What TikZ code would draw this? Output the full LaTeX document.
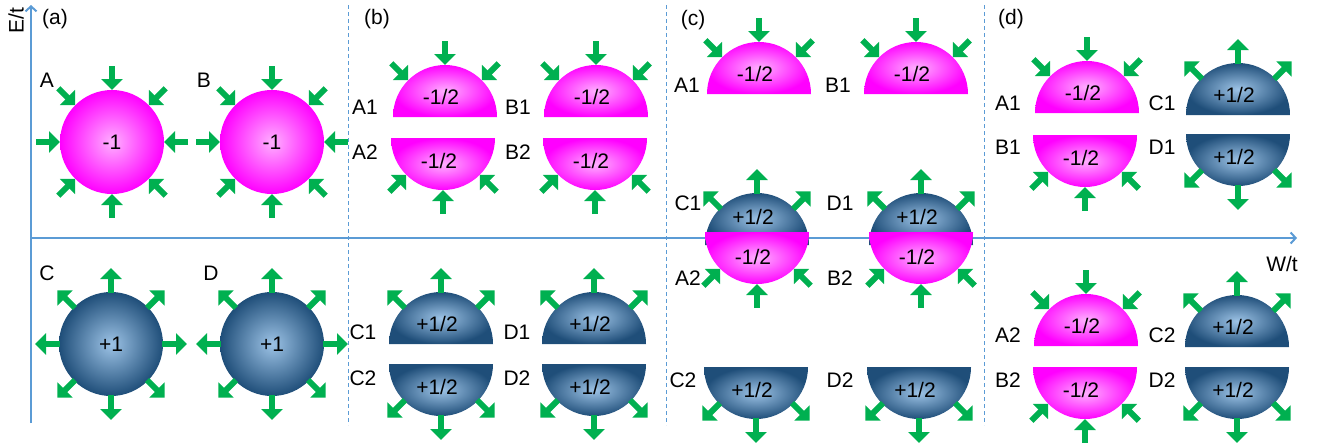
\documentclass[tikz,border=0pt]{standalone}
\usepackage{fontspec}
\setmainfont{Liberation Sans}
\usetikzlibrary{arrows.meta}
\definecolor{axisblue}{HTML}{5B9BD5}
\definecolor{garrowc}{HTML}{00B050}
\definecolor{magin}{HTML}{FFB0FF}
\definecolor{magout}{HTML}{FF00FF}
\definecolor{bluein}{HTML}{9DC3E6}
\definecolor{blueout}{HTML}{1F4E79}
\tikzset{
  negball/.style={inner color=magin, outer color=magout},
  posball/.style={inner color=bluein, outer color=blueout},
  garrow/.style={draw=garrowc, line width=6pt, -{Triangle[width=21pt,length=11pt]}},
  lbl/.style={font=\fontsize{21}{23}\selectfont, inner sep=0pt},
  axisline/.style={draw=axisblue, line width=2pt, -{Straight Barb[length=5pt,width=11pt]}},
  divider/.style={draw=axisblue, line width=1pt, dash pattern=on 4pt off 3pt},
}
% full ball: name, x, y, style, text
\newcommand{\fullball}[5]{%
  \begin{scope}[shift={(#2,#3)}]
    \path[#4] (0,0) circle[radius=52];
    \node[lbl] (#1) at (0,0) {#5};
  \end{scope}}
% upper half: [text offset] name, x, y, style, text
\newcommand{\uphalf}[6][20]{%
  \begin{scope}[shift={(#3,#4)}]
    \path[#5] (-52,0) arc[start angle=180,end angle=0,radius=52] -- cycle;
    \node[lbl] (#2) at (-4,#1) {#6};
  \end{scope}}
\newcommand{\lowhalf}[6][-23]{%
  \begin{scope}[shift={(#3,#4)}]
    \path[#5] (-52,0) arc[start angle=180,end angle=360,radius=52] -- cycle;
    \node[lbl] (#2) at (-4,#1) {#6};
  \end{scope}}
\newcommand{\inarrs}[3]{%
  \begin{scope}[shift={(#1,#2)}]
    \foreach \a in {#3} {\draw[garrow] (\a:76) -- (\a:52);}
  \end{scope}}
\newcommand{\outarrs}[3]{%
  \begin{scope}[shift={(#1,#2)}]
    \foreach \a in {#3} {\draw[garrow] (\a:51) -- (\a:76);}
  \end{scope}}
\begin{document}
\begin{tikzpicture}[x=1pt,y=1pt]
\useasboundingbox (0,0) rectangle (1319,-442);
% axes
\coordinate (O) at (31,-238);
\coordinate (Ytop) at (31,-5);
\coordinate (Ybot) at (31,-423);
\coordinate (Xend) at (1297,-238);
\draw[axisline] (Ybot) -- (Ytop);
\draw[axisline] (O) -- (Xend);
\node[lbl, rotate=90] (Et) at (16,-21) {E/t};
\node[lbl] (Wt) at (1282,-264) {W/t};
% dividers
\coordinate (d1t) at (348,-5); \coordinate (d1b) at (348,-425);
\coordinate (d2t) at (666,-5); \coordinate (d2b) at (666,-425);
\coordinate (d3t) at (984,-5); \coordinate (d3b) at (984,-425);
\draw[divider] (d1t) -- (d1b);
\draw[divider] (d2t) -- (d2b);
\draw[divider] (d3t) -- (d3b);
% panel labels
\node[lbl] (pa) at (55,-19) {(a)};
\node[lbl] (pb) at (377,-19) {(b)};
\node[lbl] (pc) at (693,-20) {(c)};
\node[lbl] (pd) at (1011,-19) {(d)};
% ---- panel (a)
\fullball{aA}{112}{-142}{negball}{-1}
\fullball{aB}{272}{-142}{negball}{-1}
\fullball{aC}{111}{-344}{posball}{+1}
\fullball{aD}{272}{-344}{posball}{+1}
\inarrs{112}{-142}{0,45,...,315}
\inarrs{272}{-142}{0,45,...,315}
\outarrs{111}{-344}{0,45,...,315}
\outarrs{272}{-344}{0,45,...,315}
\node[lbl] (laA) at (47,-80) {A};
\node[lbl] (laB) at (204,-80) {B};
\node[lbl] (laC) at (47,-273) {C};
\node[lbl] (laD) at (211,-273) {D};
% ---- panel (b)
\uphalf{bA1}{445}{-117}{negball}{-1/2}
\lowhalf{bA2}{443}{-138}{negball}{-1/2}
\uphalf{bB1}{596}{-117}{negball}{-1/2}
\lowhalf{bB2}{595}{-138}{negball}{-1/2}
\uphalf{bC1}{441}{-344}{posball}{+1/2}
\lowhalf{bC2}{441}{-364}{posball}{+1/2}
\uphalf{bD1}{594}{-344}{posball}{+1/2}
\lowhalf{bD2}{594}{-364}{posball}{+1/2}
\inarrs{445}{-117}{45,90,135}
\inarrs{443}{-138}{225,270,315}
\inarrs{596}{-117}{45,90,135}
\inarrs{595}{-138}{225,270,315}
\outarrs{441}{-344}{45,90,135}
\outarrs{441}{-364}{225,270,315}
\outarrs{594}{-344}{45,90,135}
\outarrs{594}{-364}{225,270,315}
\node[lbl] (lbA1) at (365,-107) {A1};
\node[lbl] (lbA2) at (365,-152) {A2};
\node[lbl] (lbB1) at (518,-107) {B1};
\node[lbl] (lbB2) at (518,-152) {B2};
\node[lbl] (lbC1) at (363,-332) {C1};
\node[lbl] (lbC2) at (363,-378) {C2};
\node[lbl] (lbD1) at (517,-332) {D1};
\node[lbl] (lbD2) at (517,-378) {D2};
% ---- panel (c)
\uphalf{cA1}{759}{-94}{negball}{-1/2}
\uphalf{cB1}{916}{-94}{negball}{-1/2}
\uphalf[28]{cC1}{757}{-245}{posball}{+1/2}
\lowhalf[-25]{cA2}{757}{-232}{negball}{-1/2}
\uphalf[28]{cD1}{921}{-245}{posball}{+1/2}
\lowhalf[-25]{cB2}{921}{-232}{negball}{-1/2}
\lowhalf{cC2}{756}{-367}{posball}{+1/2}
\lowhalf{cD2}{919}{-367}{posball}{+1/2}
\inarrs{759}{-94}{45,90,135}
\inarrs{916}{-94}{45,90,135}
\outarrs{757}{-245}{45,90,135}
\outarrs{921}{-245}{45,90,135}
\inarrs{757}{-232}{225,270,315}
\inarrs{921}{-232}{225,270,315}
\outarrs{756}{-367}{225,270,315}
\outarrs{919}{-367}{225,270,315}
\node[lbl] (lcA1) at (687,-85) {A1};
\node[lbl] (lcB1) at (838,-85) {B1};
\node[lbl] (lcC1) at (688,-203) {C1};
\node[lbl] (lcA2) at (688,-278) {A2};
\node[lbl] (lcD1) at (840,-203) {D1};
\node[lbl] (lcB2) at (840,-278) {B2};
\node[lbl] (lcC2) at (683,-380) {C2};
\node[lbl] (lcD2) at (840,-380) {D2};
% ---- panel (d)
\uphalf{dA1}{1087}{-113}{negball}{-1/2}
\lowhalf{dB1}{1085}{-135}{negball}{-1/2}
\uphalf{dC1}{1238}{-115}{posball}{+1/2}
\lowhalf{dD1}{1238}{-134}{posball}{+1/2}
\uphalf{dA2}{1086}{-346}{negball}{-1/2}
\lowhalf{dB2}{1085}{-367}{negball}{-1/2}
\uphalf{dC2}{1237}{-347}{posball}{+1/2}
\lowhalf{dD2}{1237}{-367}{posball}{+1/2}
\inarrs{1087}{-113}{45,90,135}
\inarrs{1085}{-135}{225,270,315}
\outarrs{1238}{-115}{45,90,135}
\outarrs{1238}{-134}{225,270,315}
\inarrs{1086}{-346}{45,90,135}
\inarrs{1085}{-367}{225,270,315}
\outarrs{1237}{-347}{45,90,135}
\outarrs{1237}{-367}{225,270,315}
\node[lbl] (ldA1) at (1008,-103) {A1};
\node[lbl] (ldB1) at (1008,-147) {B1};
\node[lbl] (ldC1) at (1162,-103) {C1};
\node[lbl] (ldD1) at (1162,-147) {D1};
\node[lbl] (ldA2) at (1008,-335) {A2};
\node[lbl] (ldB2) at (1008,-380) {B2};
\node[lbl] (ldC2) at (1162,-335) {C2};
\node[lbl] (ldD2) at (1162,-380) {D2};
\end{tikzpicture}
\end{document}
